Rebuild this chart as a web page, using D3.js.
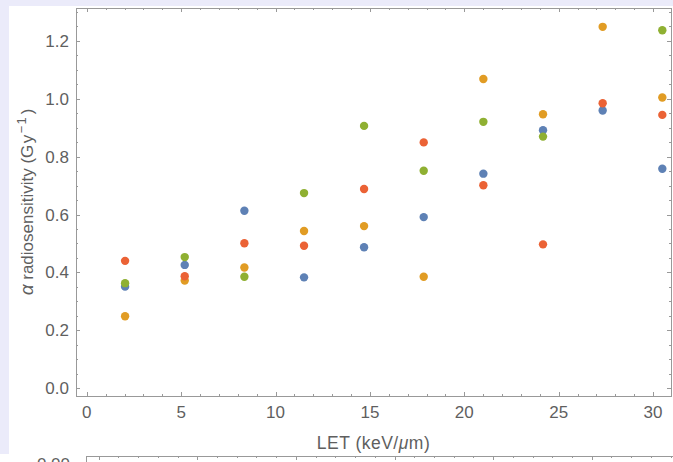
<!DOCTYPE html>
<html>
<head>
<meta charset="utf-8">
<script src="https://cdn.jsdelivr.net/npm/d3@7"></script>
<style>
  html, body { margin: 0; padding: 0; background: #ebebfa; }
  svg { display: block; }
</style>
</head>
<body>
<div id="chart"></div>
<script>
// LET values (keV/µm) and alpha radiosensitivity per series
const letValues = [2.03, 5.19, 8.35, 11.51, 14.69, 17.85, 21.01, 24.17, 27.33, 30.49];
const blueAlpha   = [0.351, 0.426, 0.613, 0.383, 0.487, 0.591, 0.741, 0.891, 0.959, 0.758];
const orangeAlpha = [0.249, 0.372, 0.417, 0.543, 0.560, 0.385, 1.068, 0.946, 1.248, 1.004];
const greenAlpha  = [0.363, 0.453, 0.385, 0.674, 0.906, 0.751, 0.920, 0.869, null, 1.236];
const redAlpha    = [0.440, 0.387, 0.501, 0.492, 0.688, 0.849, 0.701, 0.497, 0.984, 0.944];
const seriesColors = ["#5e81b5", "#e19c24", "#8fb032", "#eb6235"];
const xTickLabels = [0, 5, 10, 15, 20, 25, 30];
const yTickLabels = [0.0, 0.2, 0.4, 0.6, 0.8, 1.0, 1.2];
const lowerTickLabels = ["0.00"];

const width = 673, height = 462;
const frameColor = "#999999";
const textColor = "#5f5f5f";
const font = "'Liberation Sans', Arial, sans-serif";

const svg = d3.select("#chart").append("svg")
    .attr("width", width)
    .attr("height", height);

// white panel over the lavender background
svg.append("rect")
    .attr("x", 9).attr("y", 6)
    .attr("width", width - 9).attr("height", 448)
    .attr("fill", "white");
svg.append("rect")
    .attr("x", 0).attr("y", 454)
    .attr("width", width).attr("height", 8)
    .attr("fill", "white");

// plot frame
const plotLeft = 76, plotRight = 671, plotTop = 8, plotBottom = 396;

const x = d3.scaleLinear().domain([-0.57, 30.95]).range([plotLeft, plotRight]);
const y = d3.scaleLinear().domain([-0.0266, 1.313]).range([plotBottom, plotTop]);

const frame = svg.append("g");
frame.append("rect")
    .attr("x", plotLeft + 0.5).attr("y", plotTop + 0.5)
    .attr("width", plotRight - plotLeft).attr("height", plotBottom - plotTop)
    .attr("fill", "none")
    .attr("stroke", frameColor)
    .attr("stroke-width", 1);

// ticks drawn inwards, like Mathematica frames
const xMinor = d3.range(0, 31, 1);
const yMinor = d3.range(0, 1.31, 0.05);

function tickLen(isMajor) { return isMajor ? 4 : 2; }

xMinor.forEach(v => {
  const major = v % 5 === 0;
  const px = Math.round(x(v)) + 0.5;
  frame.append("line")
      .attr("x1", px).attr("x2", px)
      .attr("y1", plotBottom).attr("y2", plotBottom - tickLen(major))
      .attr("stroke", frameColor);
  frame.append("line")
      .attr("x1", px).attr("x2", px)
      .attr("y1", plotTop).attr("y2", plotTop + tickLen(major))
      .attr("stroke", frameColor);
});

yMinor.forEach((v, i) => {
  const major = i % 4 === 0;
  const py = Math.round(y(v)) + 0.5;
  frame.append("line")
      .attr("x1", plotLeft).attr("x2", plotLeft + tickLen(major))
      .attr("y1", py).attr("y2", py)
      .attr("stroke", frameColor);
  frame.append("line")
      .attr("x1", plotRight).attr("x2", plotRight - tickLen(major))
      .attr("y1", py).attr("y2", py)
      .attr("stroke", frameColor);
});

// tick labels
svg.append("g").selectAll("text")
    .data(xTickLabels)
    .enter()
    .append("text")
    .attr("x", d => x(d))
    .attr("y", 418)
    .attr("text-anchor", "middle")
    .style("font-family", font)
    .style("font-size", "17px")
    .style("fill", textColor)
    .text(d => d);

svg.append("g").selectAll("text")
    .data(yTickLabels)
    .enter()
    .append("text")
    .attr("x", 69)
    .attr("y", d => y(d) + 6)
    .attr("text-anchor", "end")
    .style("font-family", font)
    .style("font-size", "17px")
    .style("fill", textColor)
    .text(d => d.toFixed(1));

// axis labels
const xLabel = svg.append("text")
    .attr("x", (plotLeft + plotRight) / 2)
    .attr("y", 449)
    .attr("text-anchor", "middle")
    .style("font-family", font)
    .style("font-size", "17.5px")
    .style("letter-spacing", "0.5px")
    .style("fill", textColor);
xLabel.append("tspan").text("LET (keV/");
xLabel.append("tspan").style("font-style", "italic").text("μ");
xLabel.append("tspan").text("m)");

const yLabel = svg.append("text")
    .attr("transform", `translate(33,${(plotTop + plotBottom) / 2}) rotate(-90)`)
    .attr("text-anchor", "middle")
    .style("font-family", font)
    .style("font-size", "17px")
    .style("fill", textColor);
yLabel.append("tspan").style("font-style", "italic").style("font-size", "19px").text("α");
yLabel.append("tspan").text("  radiosensitivity (");
yLabel.append("tspan").style("letter-spacing", "1.5px").text("Gy");
yLabel.append("tspan").attr("dy", -7).style("font-size", "13px").style("letter-spacing", "1px").text("−1");
yLabel.append("tspan").attr("dy", 7).attr("dx", 2).text(")");

// data points
const series = [blueAlpha, orangeAlpha, greenAlpha, redAlpha];
series.forEach((vals, s) => {
  svg.append("g").selectAll("circle")
      .data(vals.map((v, i) => ({ let: letValues[i], a: v })).filter(d => d.a !== null))
      .enter()
      .append("circle")
      .attr("cx", d => x(d.let))
      .attr("cy", d => y(d.a))
      .attr("r", 4.2)
      .attr("fill", seriesColors[s]);
});

// top of the next panel, cut off by the window
const lowerTop = 456, lowerLeft = 86;
const xLower = d3.scaleLinear().domain([0, 6]).range([98.7, 690.3]);
const lower = svg.append("g");
lower.append("line")
    .attr("x1", lowerLeft).attr("x2", width)
    .attr("y1", lowerTop + 0.5).attr("y2", lowerTop + 0.5)
    .attr("stroke", frameColor);
lower.append("line")
    .attr("x1", lowerLeft + 0.5).attr("x2", lowerLeft + 0.5)
    .attr("y1", lowerTop).attr("y2", height)
    .attr("stroke", frameColor);
d3.range(0, 6.01, 0.2).forEach((v, i) => {
  const px = Math.round(xLower(v)) + 0.5;
  if (px < lowerLeft || px > width) return;
  lower.append("line")
      .attr("x1", px).attr("x2", px)
      .attr("y1", lowerTop).attr("y2", lowerTop + (i % 5 === 0 ? 4 : 2))
      .attr("stroke", frameColor);
});
lower.selectAll("text")
    .data(lowerTickLabels)
    .enter()
    .append("text")
    .attr("x", 70)
    .attr("y", lowerTop + 14)
    .attr("text-anchor", "end")
    .style("font-family", font)
    .style("font-size", "17px")
    .style("fill", textColor)
    .text(d => d);
</script>
</body>
</html>
